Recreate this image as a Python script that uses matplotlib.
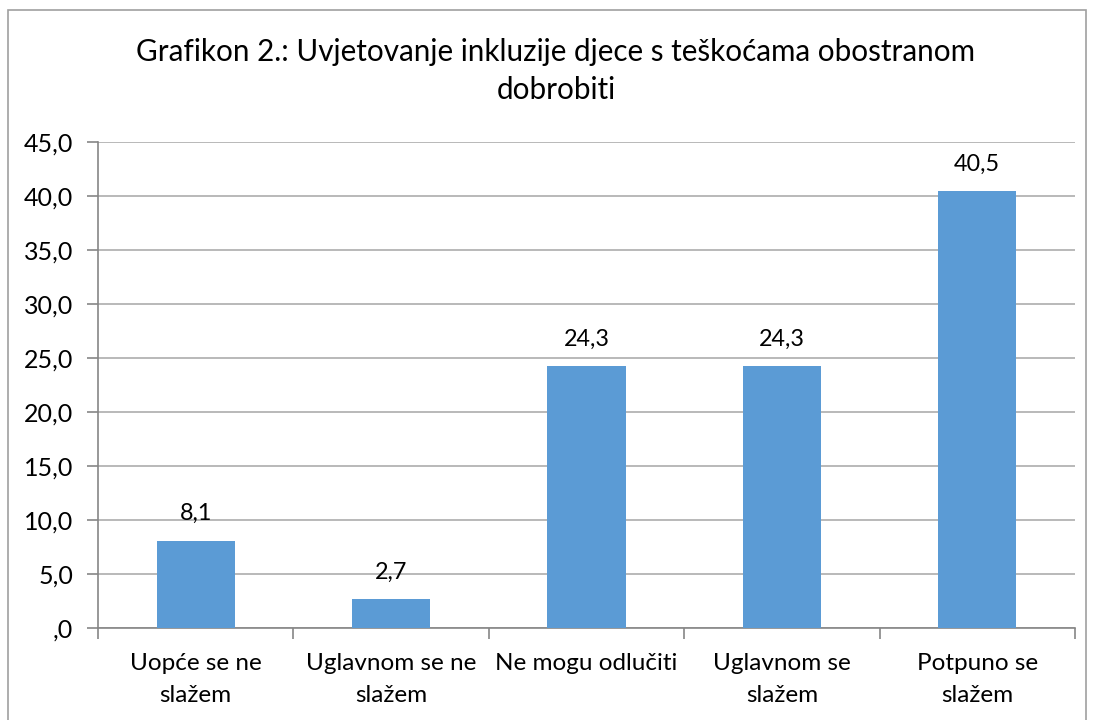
import matplotlib.pyplot as plt
from matplotlib.patches import Rectangle
import numpy as np

plt.rcParams['font.family'] = ['Lato', 'DejaVu Sans']

categories = ["Uopće se ne\nslažem", "Uglavnom se ne\nslažem", "Ne mogu odlučiti",
              "Uglavnom se\nslažem", "Potpuno se\nslažem"]
values = [8.1, 2.7, 24.3, 24.3, 40.5]
yticks = [0, 5, 10, 15, 20, 25, 30, 35, 40, 45]
ytick_labels = [",0", "5,0", "10,0", "15,0", "20,0", "25,0", "30,0", "35,0", "40,0", "45,0"]
title = "Grafikon 2.: Uvjetovanje inkluzije djece s teškoćama obostranom\ndobrobiti"

W, H = 1094, 720
fig = plt.figure(figsize=(W / 100, H / 100), dpi=100)

# plot area in pixels: x 98..1075, y 142..628
ax = fig.add_axes([98 / W, 1 - 628 / H, (1075 - 98) / W, (628 - 142) / H])

x = np.arange(len(values))
bars = ax.bar(x, values, width=0.4, color='#5B9BD5', zorder=3)
for xi, v in zip(x, values):
    ax.text(xi, v + 1.5, f"{v:.1f}".replace('.', ','), ha='center', va='bottom',
            fontsize=16.8, color='black')

ax.set_xlim(-0.5, len(values) - 0.5)
ax.set_ylim(0, 45)
ax.set_yticks(yticks)
ax.set_yticklabels(ytick_labels, fontsize=18)
ax.yaxis.grid(True, color='#ADADAD', linewidth=1.2, zorder=0)
ax.set_axisbelow(True)

# category labels, ticks at boundaries
ax.set_xticks(x)
ax.set_xticklabels(categories, fontsize=17.5, linespacing=1.62, va='top')
ax.tick_params(axis='x', length=0, pad=18)
ax.set_xticks(np.arange(len(values) + 1) - 0.5, minor=True)
ax.tick_params(axis='x', which='minor', length=8, color='#868686', width=1.2)
ax.tick_params(axis='y', length=8, color='#868686', width=1.2, pad=10)

for s in ['top', 'right']:
    ax.spines[s].set_visible(False)
for s in ['left', 'bottom']:
    ax.spines[s].set_color('#868686')
    ax.spines[s].set_linewidth(1.2)

fig.text(556 / W, 1 - 71 / H, title, ha='center', va='center', fontsize=21.3,
         linespacing=1.45)

# chart border
fig.patches.append(Rectangle((8 / W, -0.01), (1086 - 8) / W, 1 - 10 / H + 0.01,
                             transform=fig.transFigure, fill=False,
                             edgecolor='#A0A0A0', linewidth=1.2))

fig.savefig("out.png", dpi=100)
